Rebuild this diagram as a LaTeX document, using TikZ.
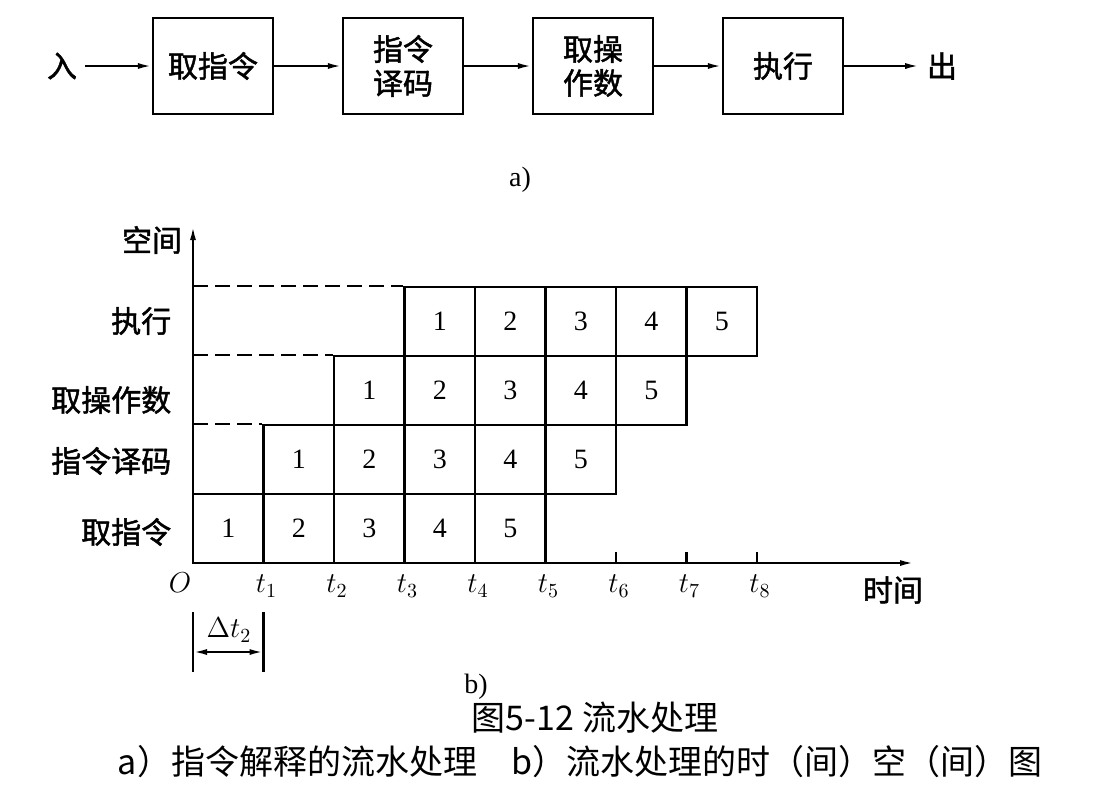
\documentclass[tikz,border=0pt]{standalone}
\usepackage{fontspec}
\setmainfont{Liberation Serif}
\newfontfamily\hei[FakeBold=1.5]{Noto Sans CJK SC}
\newfontfamily\capfont{Noto Sans CJK SC}
\usetikzlibrary{arrows.meta,positioning}

\begin{document}
\begin{tikzpicture}[x=0.5pt, y=-0.5pt, line width=1.1pt, node distance=95pt,
    blk/.style = {draw, minimum width=60pt, minimum height=48pt, align=center, inner sep=1pt, font=\hei\fontsize{15}{17}\selectfont},
    cell/.style = {draw, minimum width=35.25pt, minimum height=34.5pt, inner sep=0pt, font=\fontsize{14}{14}\selectfont},
    lbl/.style = {font=\hei\fontsize{15}{17}\selectfont},
    tk/.style = {font=\fontsize{14}{14}\selectfont},
    dashline/.style = {line width=0.9pt, dash pattern=on 7.5pt off 3.5pt},
    >={Latex[length=7pt,width=3pt]}]
    \useasboundingbox (0,0) rectangle (1108,800);
    % a) pipeline
    \node[blk] (f1) at (213,66) {取指令};
    \node[blk] (f2) [right of=f1] {指令\\译码};
    \node[blk] (f3) [right of=f2] {取操\\作数};
    \node[blk] (f4) [right of=f3] {执行};
    \node[lbl] (in) at (62,66) {入};
    \node[lbl] (out) at (942,66) {出};
    \draw[->] (in) -- (f1);
    \draw[->] (f1) -- (f2);
    \draw[->] (f2) -- (f3);
    \draw[->] (f3) -- (f4);
    \draw[->] (f4) -- (out);
    \node[tk] (capa) at (520,180) {a)};
    % b) space-time chart
    \coordinate (O) at (193,563);
    \draw[->] (O) -- (193,226);
    \draw[->] (O) -- (914,563);
    \node[lbl] (space) at (152,240) {空间};
    \node[lbl] (time) at (893,590) {时间};
    \node[lbl, anchor=east] (s0) at (179,532) {取指令};
    \node[lbl, anchor=east] (s1) at (179,461) {指令译码};
    \node[lbl, anchor=east] (s2) at (179,400) {取操作数};
    \node[lbl, anchor=east] (s3) at (179,321) {执行};
    \foreach \r in {0,...,3}
        \foreach \i in {1,...,5}
            \node[cell] (c\r\i) at ({193+70.5*(\r+\i-1)+35.25},{563-69*\r-34.5}) {\i};
    \foreach \r in {1,2,3}
        \draw[dashline] (c\r1.north west -| O) -- (c\r1.north west);
    \node[tk] (o) at (180,583) {$O$};
    \foreach \k in {1,...,8}
        \node[tk] (t\k) at ({193+70.5*\k+3},586) {$t_{\k}$};
    \foreach \k in {6,7,8}
        \draw ({193+70.5*\k},563) -- ++(0,-11);
    % interval
    \coordinate (dl) at (193,652);
    \coordinate (dr) at (263.5,652);
    \draw (dl) ++(0,-40) -- ++(0,60);
    \draw (dr) ++(0,-40) -- ++(0,60);
    \draw[<->] (dl) -- (dr);
    \node[tk] (dt) at (229,630) {$\Delta t_2$};
    \node[tk] (capb) at (476,687) {b)};
    \node[font=\capfont\fontsize{17}{17}\selectfont] (title) at (595,718) {图5-12 流水处理};
    \node[font=\capfont\fontsize{17}{17}\selectfont] (sub) at (580,762) {a）指令解释的流水处理\quad b）流水处理的时（间）空（间）图};
\end{tikzpicture}
\end{document}
